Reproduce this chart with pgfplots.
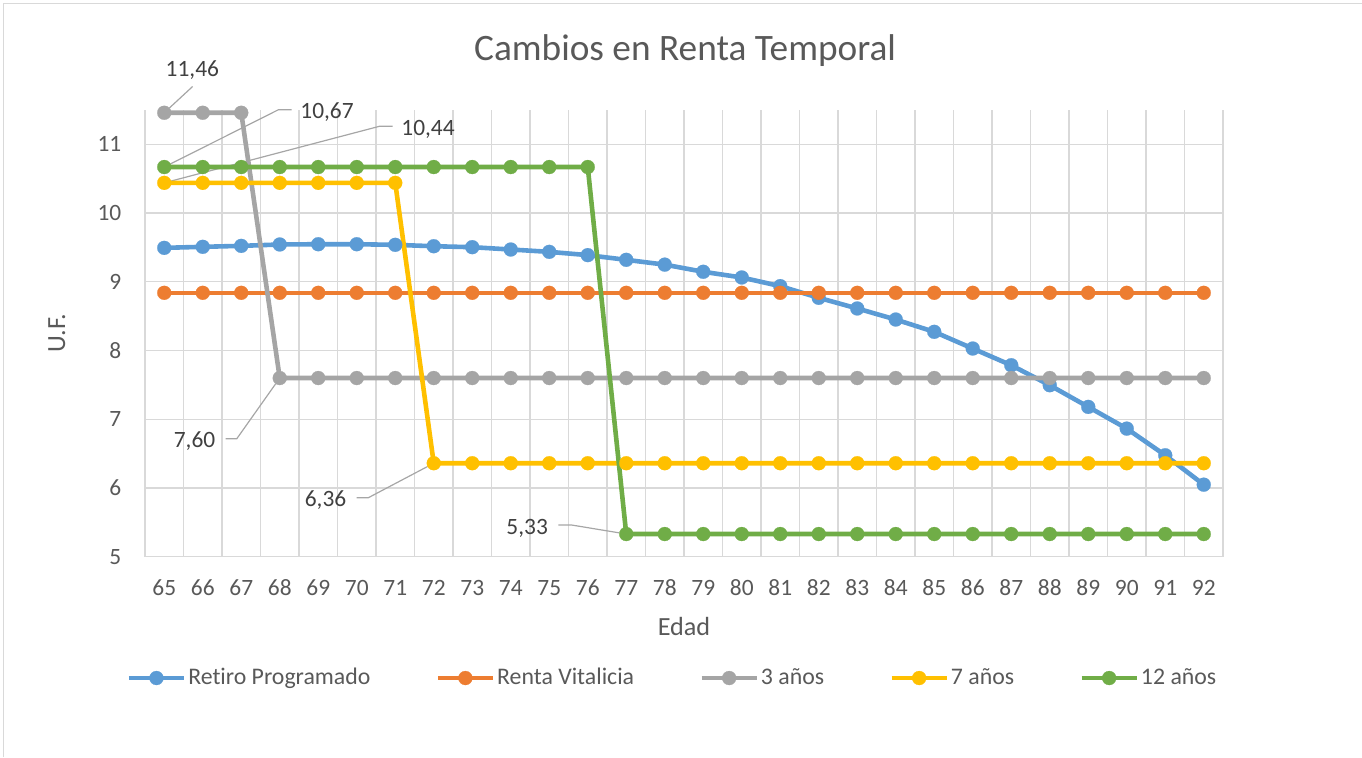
\documentclass[border=0pt]{standalone}
\usepackage{pgfplots}
\usepackage{pgfplotstable}
\pgfplotsset{compat=1.18}
\usepackage{fontspec}
\setmainfont{Carlito}[Ligatures=NoCommon]
\definecolor{cBlue}{HTML}{5B9BD5}
\definecolor{cOrange}{HTML}{ED7D31}
\definecolor{cGray}{HTML}{A5A5A5}
\definecolor{cYellow}{HTML}{FFC000}
\definecolor{cGreen}{HTML}{70AD47}
\definecolor{txt}{HTML}{595959}
\definecolor{lbl}{HTML}{404040}
\definecolor{gridc}{HTML}{D9D9D9}
\definecolor{lead}{HTML}{A6A6A6}
\pgfplotstableread{
edad rp rv a3 a7 a12
65 9.494 8.84 11.46 10.44 10.67
66 9.509 8.84 11.46 10.44 10.67
67 9.523 8.84 11.46 10.44 10.67
68 9.543 8.84 7.60 10.44 10.67
69 9.547 8.84 7.60 10.44 10.67
70 9.547 8.84 7.60 10.44 10.67
71 9.538 8.84 7.60 10.44 10.67
72 9.518 8.84 7.60 6.36 10.67
73 9.504 8.84 7.60 6.36 10.67
74 9.470 8.84 7.60 6.36 10.67
75 9.436 8.84 7.60 6.36 10.67
76 9.388 8.84 7.60 6.36 10.67
77 9.320 8.84 7.60 6.36 5.33
78 9.250 8.84 7.60 6.36 5.33
79 9.146 8.84 7.60 6.36 5.33
80 9.063 8.84 7.60 6.36 5.33
81 8.937 8.84 7.60 6.36 5.33
82 8.767 8.84 7.60 6.36 5.33
83 8.612 8.84 7.60 6.36 5.33
84 8.451 8.84 7.60 6.36 5.33
85 8.272 8.84 7.60 6.36 5.33
86 8.029 8.84 7.60 6.36 5.33
87 7.786 8.84 7.60 6.36 5.33
88 7.495 8.84 7.60 6.36 5.33
89 7.180 8.84 7.60 6.36 5.33
90 6.864 8.84 7.60 6.36 5.33
91 6.476 8.84 7.60 6.36 5.33
92 6.048 8.84 7.60 6.36 5.33
}\data
\newcommand\lblfont{\fontsize{11.7}{14}\selectfont}
\begin{document}
\begin{tikzpicture}
\useasboundingbox (0pt,0pt) rectangle (681pt,378.5pt);
\draw[gridc, line width=0.75pt] (1.75pt,0pt) -- (1.75pt,376.75pt) -- (681pt,376.75pt);
\begin{axis}[
  at={(72.5pt,100.15pt)}, anchor=south west,
  scale only axis, width=539pt, height=223.35pt,
  xmin=64.5, xmax=92.5, ymin=5, ymax=11.5,
  xtick={65,...,92}, ytick={5,...,11},
  minor xtick={64.5,65.5,66.5,67.5,68.5,69.5,70.5,71.5,72.5,73.5,74.5,75.5,76.5,77.5,78.5,79.5,80.5,81.5,82.5,83.5,84.5,85.5,86.5,87.5,88.5,89.5,90.5,91.5,92.5},
  xminorgrids=true, xmajorgrids=false, ymajorgrids=true,
  minor grid style={gridc, line width=0.65pt},
  major grid style={gridc, line width=0.65pt},
  axis line style={draw=none},
  major tick length=0pt, minor tick length=0pt,
  tick style={draw=none},
  tick label style={font=\lblfont, text=txt},
  /pgf/number format/assume math mode=true,
  xticklabel style={anchor=base, yshift=-19.15pt, inner sep=0pt},
  yticklabel style={anchor=east, xshift=-11.65pt, inner sep=0pt},
  title={Cambios en Renta Temporal},
  title style={at={(axis description cs:0.501,1.085)}, anchor=base, font=\fontsize{18.65}{22}\selectfont, text=txt, inner sep=0pt},
  xlabel={Edad},
  xlabel style={at={(axis description cs:0.5,-0.1764)}, anchor=base, font=\fontsize{13.1}{16}\selectfont, text=txt, inner sep=0pt},
  ylabel={U.F.},
  ylabel style={at={(axis description cs:-0.0742,0.5)}, anchor=base, font=\fontsize{13.1}{16}\selectfont, text=txt, inner sep=0pt},
  legend columns=5,
  legend style={at={(axis description cs:0.4893,-0.2716)}, anchor=center, draw=none, fill=none,
    font=\fontsize{11.9}{14}\selectfont, text=txt, nodes={inner sep=1pt},
    /tikz/every even column/.append style={column sep=31.6pt}},
  legend image code/.code={\draw[#1,mark repeat=2,mark phase=2] plot coordinates {(0pt,0pt) (13.75pt,0pt) (27.5pt,0pt)};},
  clip=false,
  every axis plot/.append style={line width=2.3pt, mark=*, mark size=3.5pt},
]
\draw[lead, line width=0.6pt, shorten >=3.5pt] (axis cs:65.737,11.842) -- (axis cs:65,11.46);
\draw[lead, line width=0.6pt, shorten <=3.5pt] (axis cs:65,10.67) -- (axis cs:67.962,11.503) -- (axis cs:68.310,11.503);
\draw[lead, line width=0.6pt, shorten <=3.5pt] (axis cs:65,10.44) -- (axis cs:70.604,11.265) -- (axis cs:70.934,11.265);
\draw[lead, line width=0.6pt, shorten >=3.5pt] (axis cs:66.596,6.715) -- (axis cs:66.882,6.715) -- (axis cs:68,7.60);
\draw[lead, line width=0.6pt, shorten >=3.5pt] (axis cs:69.999,5.858) -- (axis cs:70.300,5.858) -- (axis cs:72,6.36);
\draw[lead, line width=0.6pt, shorten >=3.5pt] (axis cs:75.235,5.461) -- (axis cs:75.583,5.461) -- (axis cs:77,5.33);
\addplot[cBlue, mark options={solid, fill=cBlue, draw=cBlue, line width=0.1pt}] table[x=edad,y=rp]{\data};
\addlegendentry{Retiro Programado}
\addplot[cOrange, mark options={solid, fill=cOrange, draw=cOrange, line width=0.1pt}] table[x=edad,y=rv]{\data};
\addlegendentry{Renta Vitalicia}
\addplot[cGray, mark options={solid, fill=cGray, draw=cGray, line width=0.1pt}] table[x=edad,y=a3]{\data};
\addlegendentry{3 años}
\addplot[cYellow, mark options={solid, fill=cYellow, draw=cYellow, line width=0.1pt}] table[x=edad,y=a7]{\data};
\addlegendentry{7 años}
\addplot[cGreen, mark options={solid, fill=cGreen, draw=cGreen, line width=0.1pt}] table[x=edad,y=a12]{\data};
\addlegendentry{12 años}
\node[anchor=base, inner sep=0pt, text=lbl, font=\lblfont] at (axis cs:65.729,11.987) {11,46};
\node[anchor=base west, inner sep=0pt, text=lbl, font=\lblfont] at (axis cs:68.526,11.372) {10,67};
\node[anchor=base west, inner sep=0pt, text=lbl, font=\lblfont] at (axis cs:71.149,11.129) {10,44};
\node[anchor=base east, inner sep=0pt, text=lbl, font=\lblfont] at (axis cs:66.336,6.590) {7,60};
\node[anchor=base east, inner sep=0pt, text=lbl, font=\lblfont] at (axis cs:69.739,5.727) {6,36};
\node[anchor=base east, inner sep=0pt, text=lbl, font=\lblfont] at (axis cs:74.975,5.330) {5,33};
\end{axis}
\end{tikzpicture}
\end{document}
